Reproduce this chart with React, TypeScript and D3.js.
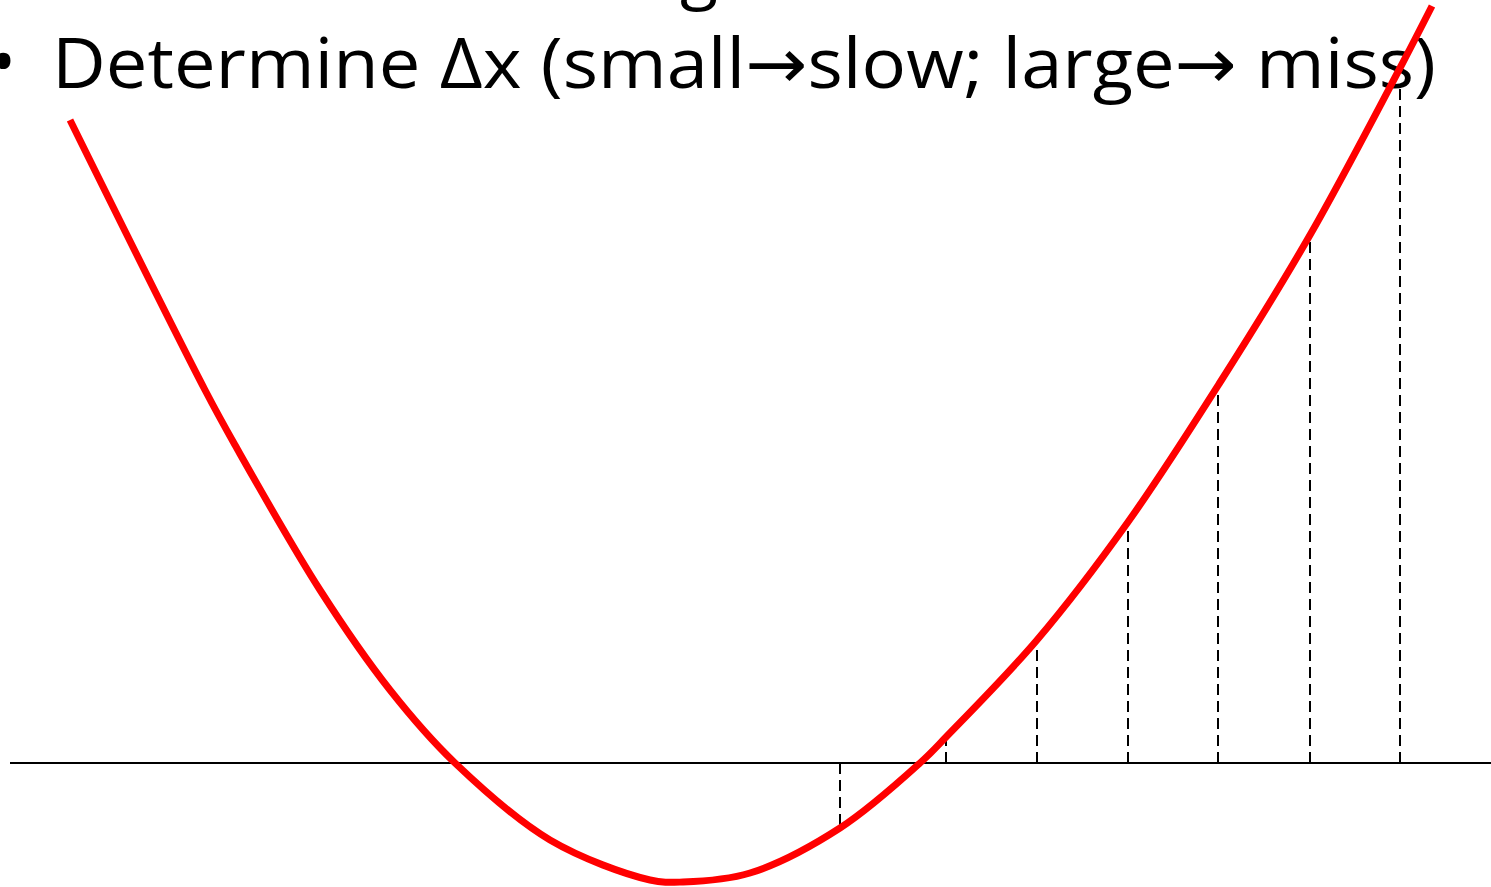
import * as React from 'react';
import * as d3 from 'd3';

// curve samples (x in hundreds of px, y relative to the axis)
const curveX = [0.7, 2.05, 2.35, 3.2, 3.9, 4.55, 5.5, 6.5, 6.83, 7.5, 8.4, 9.2, 9.47, 10.37, 11.28, 12.19, 13.1, 14.0, 14.32];
const curveY = [6.43, 3.73, 3.18, 1.73, 0.73, 0.0, -0.77, -1.17, -1.19, -1.1, -0.65, 0.0, 0.27, 1.23, 2.41, 3.79, 5.28, 6.95, 7.57];

// dashed step lines (x positions and curve value at each)
const stepX = [8.4, 9.46, 10.37, 11.28, 12.18, 13.1, 14.0];
const stepY = [-0.62, 0.3, 1.23, 2.42, 3.78, 5.28, 6.95];

const bullet = '•';
const title = 'Determine Δx (small→slow; large→ miss)';

const width = 1491;
const height = 887;

const App = () => {
  const x = d3.scaleLinear().domain([0, 14.91]).range([0, width]);
  const y = d3.scaleLinear().domain([-1.24, 7.63]).range([height, 0]);

  const pts: [number, number][] = curveX.map((v, i) => [v, curveY[i]]);
  const line = d3
    .line<[number, number]>()
    .x((d) => x(d[0]))
    .y((d) => y(d[1]))
    .curve(d3.curveCatmullRom.alpha(0.5));

  const font = "'Open Sans', 'DejaVu Sans', sans-serif";

  return (
    <svg
      width={width}
      height={height}
      style={{ position: 'absolute', left: 0, top: 0, background: '#fff' }}
    >
      <line x1={x(0.1)} x2={width} y1={y(0)} y2={y(0)} stroke="#000" strokeWidth={2} />
      {stepX.map((v, i) => (
        <line
          key={i}
          x1={x(v)}
          x2={x(v)}
          y1={y(0)}
          y2={y(stepY[i])}
          stroke="#000"
          strokeWidth={2}
          strokeDasharray="11,6"
        />
      ))}
      <rect x={0} y={0} width={width} height={88} fill="#fff" />
      <text x={680} y={-5} fontFamily={font} fontSize={70} fill="#000">
        g
      </text>
      <text x={-10} y={86} fontFamily={font} fontSize={70} fill="#000">
        {bullet}
      </text>
      <text
        x={52}
        y={88}
        fontFamily={font}
        fontSize={70}
        fill="#000"
        textLength={1384}
        lengthAdjust="spacingAndGlyphs"
      >
        {title}
      </text>
      <path d={line(pts) ?? ''} fill="none" stroke="#ff0000" strokeWidth={7} />
    </svg>
  );
};

export default App;
